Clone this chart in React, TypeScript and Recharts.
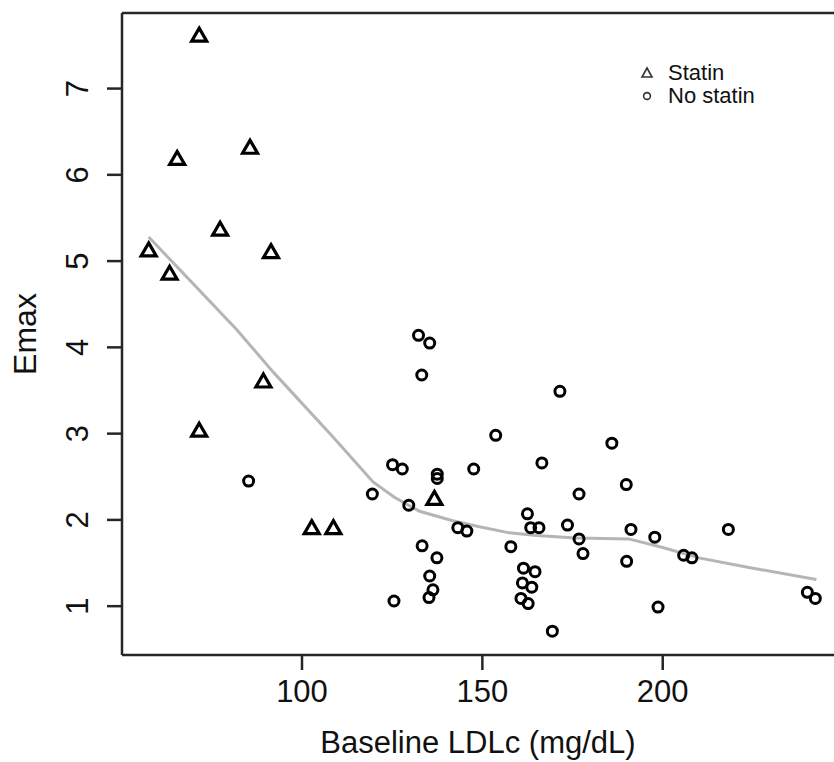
import React from 'react'
import { ScatterChart, Scatter, XAxis, YAxis, ReferenceLine } from 'recharts'

const statinLdl: number[] = [71.5, 65.4, 85.6, 77.3, 57.5, 91.4, 63.3, 89.3, 71.5, 102.7, 108.7, 136.7]
const statinEmax: number[] = [7.62, 6.19, 6.32, 5.37, 5.13, 5.11, 4.86, 3.61, 3.04, 1.91, 1.91, 2.25]

const noStatinLdl: number[] = [
    85.2, 119.5, 125.1, 127.8, 125.5, 132.3, 135.4, 133.2, 171.5, 153.7, 185.9, 137.5,
    137.5, 147.6, 166.5, 189.9, 176.8, 129.6, 162.5, 163.4, 165.7, 143.2, 145.7, 173.6,
    157.9, 176.8, 177.9, 133.3, 137.4, 135.4, 136.3, 135.2, 161.4, 164.6, 161.1, 163.7,
    160.7, 162.7, 169.4, 190.0, 191.2, 197.8, 198.7, 218.2, 205.8, 208.1, 240.1, 242.3
]
const noStatinEmax: number[] = [
    2.45, 2.3, 2.64, 2.59, 1.06, 4.14, 4.05, 3.68, 3.49, 2.98, 2.89, 2.53,
    2.48, 2.59, 2.66, 2.41, 2.3, 2.17, 2.07, 1.91, 1.91, 1.91, 1.87, 1.94,
    1.69, 1.78, 1.61, 1.7, 1.56, 1.35, 1.19, 1.1, 1.44, 1.4, 1.27, 1.22,
    1.09, 1.03, 0.71, 1.52, 1.89, 1.8, 0.99, 1.89, 1.59, 1.56, 1.16, 1.09
]

const smoothLdl: number[] = [57.5, 81.8, 92.1, 108.6, 119.7, 125.7, 132.6, 141.8, 149.2, 157.5, 165, 175.9, 190.6, 200, 210, 225, 242.6]
const smoothEmax: number[] = [5.28, 4.21, 3.71, 2.96, 2.44, 2.26, 2.1, 1.99, 1.92, 1.85, 1.82, 1.79, 1.78, 1.68, 1.56, 1.44, 1.31]

const xTicks: number[] = [100, 150, 200]
const yTicks: number[] = [1, 2, 3, 4, 5, 6, 7]

const FONT = '"Liberation Sans", Arial, Helvetica, sans-serif'
const AXIS = '#262626'

const toPoints = (xs: number[], ys: number[]) => xs.map((x, i) => ({ ldl: x, emax: ys[i] }))

const statin = toPoints(statinLdl, statinEmax)
const noStatin = toPoints(noStatinLdl, noStatinEmax)
const smooth = toPoints(smoothLdl, smoothEmax)

const Triangle = (props: any) => {
    const { cx, cy } = props
    return (
        <path
            d={`M${cx},${cy - 7} L${cx + 7.5},${cy + 6} L${cx - 7.5},${cy + 6} Z`}
            fill="none"
            stroke="#000"
            strokeWidth={3.2}
        />
    )
}

const Ring = (props: any) => {
    const { cx, cy } = props
    return <circle cx={cx} cy={cy} r={5} fill="none" stroke="#000" strokeWidth={3} />
}

const XTick = (props: any) => {
    const { x, payload } = props
    return (
        <text x={x} y={691} textAnchor="middle" dominantBaseline="central" fontSize={31} fontFamily={FONT} fill="#111">
            {payload.value}
        </text>
    )
}

const YTick = (props: any) => {
    const { y, payload } = props
    return (
        <text
            x={78}
            y={y}
            transform={`rotate(-90, 78, ${y})`}
            textAnchor="middle"
            dominantBaseline="central"
            fontSize={31}
            fontFamily={FONT}
            fill="#111"
        >
            {payload.value}
        </text>
    )
}

const App: React.FunctionComponent = () => {
    return (
        <div style={{ position: 'absolute', left: 0, top: 0, width: 834, height: 762, overflow: 'hidden', background: '#fff' }}>
            <ScatterChart width={860} height={762} margin={{ top: 13, right: 18, bottom: 0, left: 0 }}>
                <XAxis
                    dataKey="ldl"
                    type="number"
                    domain={[50.1, 249.7]}
                    ticks={xTicks}
                    allowDataOverflow
                    height={107}
                    tickSize={15}
                    tick={<XTick />}
                    axisLine={{ stroke: AXIS, strokeWidth: 2.5 }}
                    tickLine={{ stroke: AXIS, strokeWidth: 2.5 }}
                />
                <YAxis
                    dataKey="emax"
                    type="number"
                    domain={[0.434, 7.876]}
                    ticks={yTicks}
                    allowDataOverflow
                    width={122}
                    tickSize={15}
                    tick={<YTick />}
                    axisLine={{ stroke: AXIS, strokeWidth: 2.5 }}
                    tickLine={{ stroke: AXIS, strokeWidth: 2.5 }}
                />
                <ReferenceLine y={7.876} stroke={AXIS} strokeWidth={2.5} />
                <Scatter
                    data={smooth}
                    line={{ stroke: '#b5b5b5', strokeWidth: 3 }}
                    shape={() => <g />}
                    isAnimationActive={false}
                />
                <Scatter data={noStatin} shape={<Ring />} isAnimationActive={false} />
                <Scatter data={statin} shape={<Triangle />} isAnimationActive={false} />
            </ScatterChart>

            <div
                style={{
                    position: 'absolute',
                    left: 0,
                    top: 0,
                    width: 834,
                    height: 762,
                    pointerEvents: 'none',
                    fontFamily: FONT,
                    color: '#111'
                }}
            >
                <div style={{ position: 'absolute', left: 0, top: 725, width: 956, textAlign: 'center', fontSize: 31, lineHeight: '36px' }}>
                    Baseline LDLc (mg/dL)
                </div>
                <div
                    style={{
                        position: 'absolute',
                        left: 25 - 60,
                        top: 334 - 20,
                        width: 120,
                        height: 40,
                        lineHeight: '40px',
                        textAlign: 'center',
                        fontSize: 32,
                        transform: 'rotate(-90deg)'
                    }}
                >
                    Emax
                </div>
                <div style={{ position: 'absolute', left: 639, top: 61, fontSize: 22, lineHeight: '23px' }}>
                    <div style={{ display: 'flex', alignItems: 'center' }}>
                        <svg width={16} height={16} style={{ marginRight: 13 }}>
                            <path d="M8,3 L13,12 L3,12 Z" fill="none" stroke="#333" strokeWidth={1.6} />
                        </svg>
                        Statin
                    </div>
                    <div style={{ display: 'flex', alignItems: 'center' }}>
                        <svg width={16} height={16} style={{ marginRight: 13 }}>
                            <circle cx={8} cy={8} r={3.4} fill="none" stroke="#333" strokeWidth={1.6} />
                        </svg>
                        No statin
                    </div>
                </div>
            </div>
        </div>
    )
}

export default App
